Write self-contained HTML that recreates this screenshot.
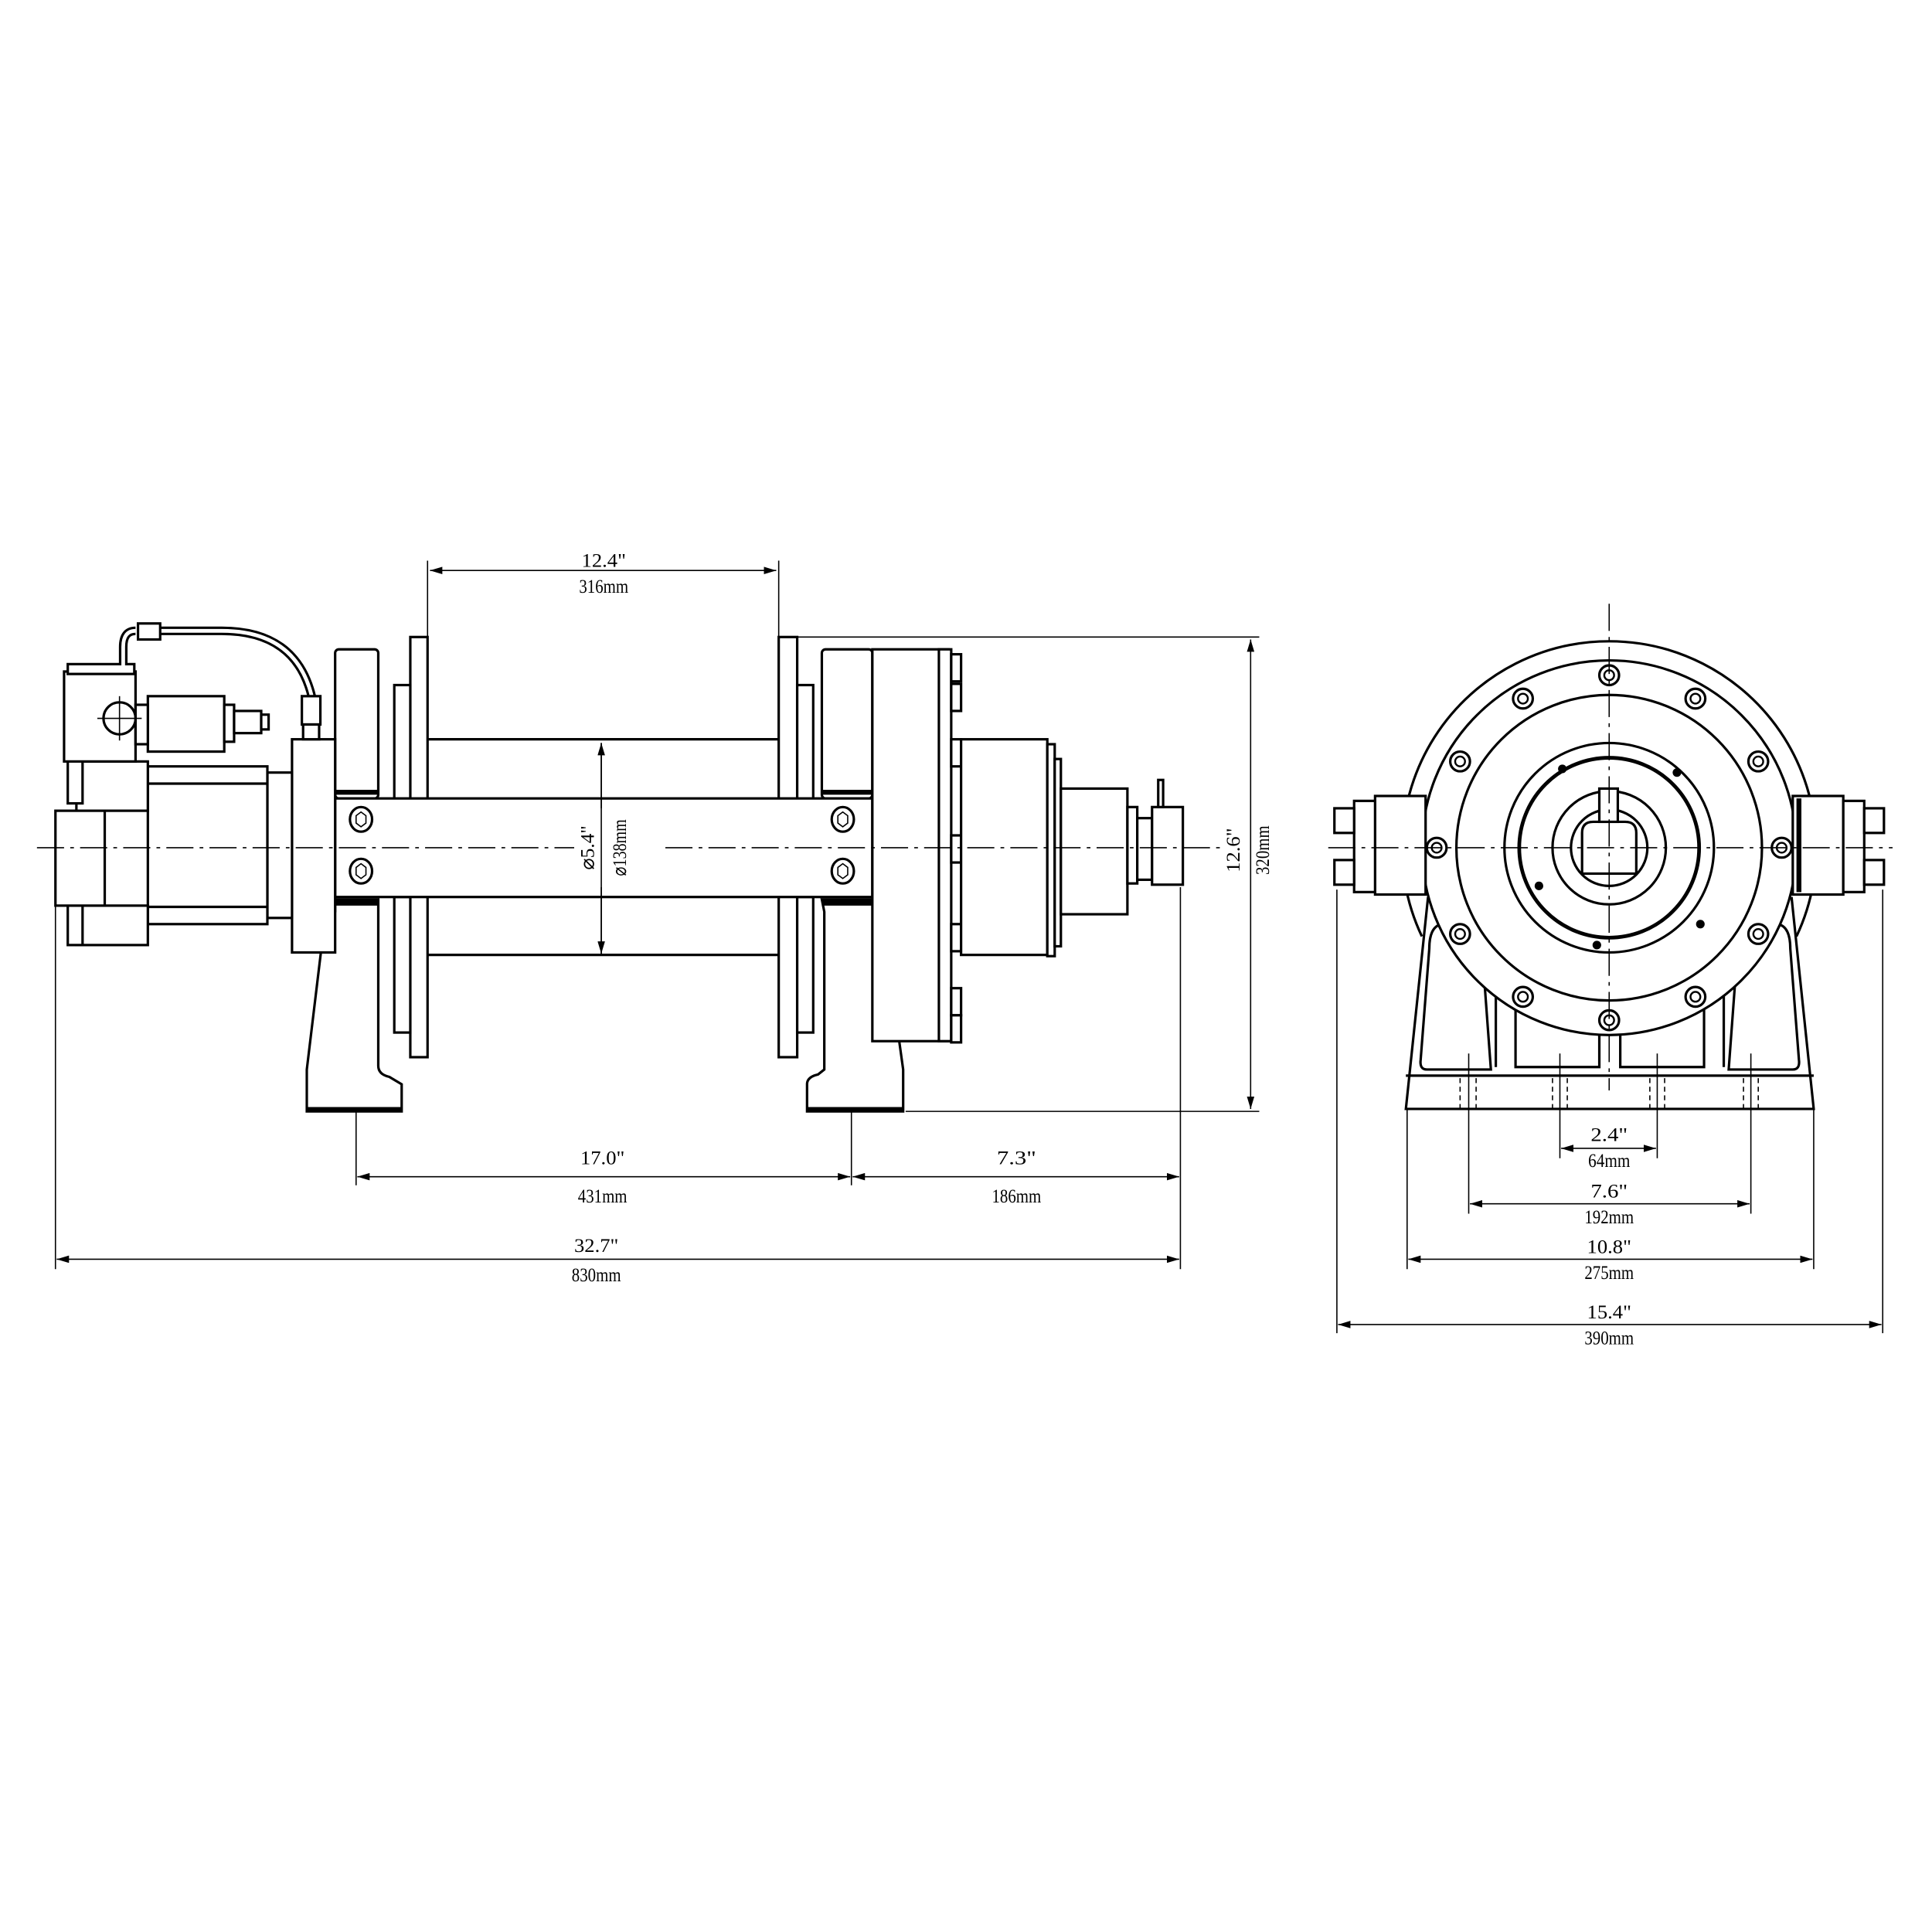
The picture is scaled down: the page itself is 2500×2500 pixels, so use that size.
<!DOCTYPE html>
<html><head><meta charset="utf-8"><style>
html,body{margin:0;padding:0;background:#fff}
svg{display:block}
text{font-family:"Liberation Serif",serif;font-size:16px;fill:#000;text-anchor:middle}
</style></head><body>
<svg width="2500" height="2500" viewBox="0 0 1568 1568" xmlns="http://www.w3.org/2000/svg">
<defs>
<marker id="a" viewBox="0 0 10 6" refX="10" refY="3" markerWidth="10" markerHeight="6" orient="auto-start-reverse" markerUnits="userSpaceOnUse"><path d="M0,0L10,3L0,6z" fill="#000"/></marker>
</defs>
<rect width="1568" height="1568" fill="#fff"/>
<g fill="none" stroke="#000" stroke-width="1">
<line x1="347" y1="455" x2="347" y2="517"/>
<line x1="632" y1="455" x2="632" y2="517"/>
<line x1="647" y1="517" x2="1022" y2="517"/>
<line x1="735" y1="902" x2="1022" y2="902"/>
<line x1="289" y1="865" x2="289" y2="962"/>
<line x1="691" y1="865" x2="691" y2="962"/>
<line x1="958" y1="720" x2="958" y2="1030"/>
<line x1="45" y1="735" x2="45" y2="1030"/>
<line x1="349" y1="463" x2="630" y2="463" marker-start="url(#a)" marker-end="url(#a)"/>
<line x1="1015" y1="519" x2="1015" y2="900" marker-start="url(#a)" marker-end="url(#a)"/>
<line x1="290" y1="955" x2="690" y2="955" marker-start="url(#a)" marker-end="url(#a)"/>
<line x1="692" y1="955" x2="957" y2="955" marker-start="url(#a)" marker-end="url(#a)"/>
<line x1="46" y1="1022" x2="957" y2="1022" marker-start="url(#a)" marker-end="url(#a)"/>
<line x1="1085" y1="722" x2="1085" y2="1082"/>
<line x1="1528" y1="722" x2="1528" y2="1082"/>
<line x1="1142" y1="900" x2="1142" y2="1030"/>
<line x1="1472" y1="900" x2="1472" y2="1030"/>
<line x1="1192" y1="855" x2="1192" y2="985"/>
<line x1="1421" y1="855" x2="1421" y2="985"/>
<line x1="1266" y1="855" x2="1266" y2="940"/>
<line x1="1345" y1="855" x2="1345" y2="940"/>
<line x1="1267" y1="932" x2="1344" y2="932" marker-start="url(#a)" marker-end="url(#a)"/>
<line x1="1193" y1="977" x2="1420" y2="977" marker-start="url(#a)" marker-end="url(#a)"/>
<line x1="1143" y1="1022" x2="1471" y2="1022" marker-start="url(#a)" marker-end="url(#a)"/>
<line x1="1086" y1="1075" x2="1527" y2="1075" marker-start="url(#a)" marker-end="url(#a)"/>
</g>
<g>
<text x="490" y="460" textLength="36" lengthAdjust="spacingAndGlyphs">12.4"</text>
<text x="490" y="481" textLength="40" lengthAdjust="spacingAndGlyphs">316mm</text>
<text x="489" y="945" textLength="36" lengthAdjust="spacingAndGlyphs">17.0"</text>
<text x="489" y="976" textLength="40" lengthAdjust="spacingAndGlyphs">431mm</text>
<text x="825" y="945" textLength="32" lengthAdjust="spacingAndGlyphs">7.3"</text>
<text x="825" y="976" textLength="40" lengthAdjust="spacingAndGlyphs">186mm</text>
<text x="484" y="1016" textLength="36" lengthAdjust="spacingAndGlyphs">32.7"</text>
<text x="484" y="1040" textLength="40" lengthAdjust="spacingAndGlyphs">830mm</text>
<text transform="translate(1006,690) rotate(-90)" textLength="36" lengthAdjust="spacingAndGlyphs">12.6"</text>
<text transform="translate(1030,690) rotate(-90)" textLength="40" lengthAdjust="spacingAndGlyphs">320mm</text>
<text x="1306" y="926" textLength="30" lengthAdjust="spacingAndGlyphs">2.4"</text>
<text x="1306" y="947" textLength="34" lengthAdjust="spacingAndGlyphs">64mm</text>
<text x="1306" y="972" textLength="30" lengthAdjust="spacingAndGlyphs">7.6"</text>
<text x="1306" y="993" textLength="40" lengthAdjust="spacingAndGlyphs">192mm</text>
<text x="1306" y="1017" textLength="36" lengthAdjust="spacingAndGlyphs">10.8"</text>
<text x="1306" y="1038" textLength="40" lengthAdjust="spacingAndGlyphs">275mm</text>
<text x="1306" y="1070" textLength="36" lengthAdjust="spacingAndGlyphs">15.4"</text>
<text x="1306" y="1091" textLength="40" lengthAdjust="spacingAndGlyphs">390mm</text>
</g>
<!-- LEFT VIEW -->
<g fill="#fff" stroke="#000" stroke-width="2">
<line x1="347" y1="600" x2="632" y2="600"/>
<line x1="347" y1="775" x2="632" y2="775"/>
<rect x="333" y="517" width="14" height="341"/>
<rect x="632" y="517" width="15" height="341"/>
<rect x="320" y="556" width="13" height="93"/>
<rect x="320" y="728" width="13" height="110"/>
<rect x="647" y="556" width="13" height="93"/>
<rect x="647" y="728" width="13" height="110"/>
<rect x="272" y="527" width="35" height="121" rx="3"/>
<line x1="272" y1="643" x2="307" y2="643" stroke-width="4"/>
<rect x="667" y="527" width="41" height="121" rx="3"/>
<line x1="667" y1="643" x2="708" y2="643" stroke-width="4"/>
<path d="M272,730 L307,730 L307,865 Q307,872 316,874 L326,880 L326,902 L249,902 L249,868 L262,760 L272,740 Z"/>
<path d="M667,730 L708,730 L718,760 L733,868 L733,902 L655,902 L655,880 Q655,874 664,872 L669,868 L669,740 Z"/>
<line x1="272" y1="733" x2="307" y2="733" stroke-width="4"/>
<line x1="667" y1="733" x2="708" y2="733" stroke-width="4"/>
<line x1="249" y1="900" x2="326" y2="900" stroke-width="3"/>
<line x1="655" y1="900" x2="733" y2="900" stroke-width="3"/>
<rect x="272" y="648" width="436" height="80"/>
<rect x="708" y="527" width="62" height="318"/>
<rect x="762" y="527" width="10" height="318"/>
<rect x="772" y="531" width="8" height="22"/><rect x="772" y="555" width="8" height="22"/>
<rect x="772" y="600" width="8" height="22"/><rect x="772" y="678" width="8" height="22"/>
<rect x="772" y="750" width="8" height="22"/><rect x="772" y="802" width="8" height="22"/><rect x="772" y="824" width="8" height="22"/>
<rect x="780" y="600" width="70" height="175"/>
<rect x="850" y="604" width="6" height="172"/>
<rect x="856" y="616" width="5" height="152"/>
<rect x="861" y="640" width="54" height="102"/>
<rect x="915" y="655" width="8" height="62"/>
<rect x="923" y="664" width="12" height="50"/>
<rect x="935" y="655" width="25" height="63"/>
<rect x="940" y="633" width="4" height="22"/>
<rect x="237" y="600" width="35" height="173"/>
<rect x="217" y="627" width="20" height="118"/>
<rect x="120" y="622" width="97" height="128"/>
<line x1="120" y1="636" x2="217" y2="636"/>
<line x1="120" y1="736" x2="217" y2="736"/>
<rect x="62" y="618" width="58" height="40"/>
<rect x="62" y="735" width="58" height="32"/>
<rect x="55" y="612" width="12" height="40"/>
<rect x="55" y="735" width="12" height="32"/>
<rect x="45" y="658" width="40" height="77"/>
<rect x="52" y="545" width="58" height="73"/>
<rect x="55" y="539" width="54" height="8"/>
<rect x="120" y="565" width="62" height="45"/>
<rect x="110" y="572" width="10" height="32"/>
<rect x="182" y="572" width="8" height="30"/>
<rect x="190" y="577" width="22" height="18"/>
<rect x="212" y="580" width="6" height="12"/>
<circle cx="97" cy="583" r="13"/>
<line x1="79" y1="583" x2="115" y2="583" stroke-width="1"/>
<line x1="97" y1="565" x2="97" y2="601" stroke-width="1"/>
<path d="M100,540 L100,525 Q100,512 110,512 M118,512 L180,512 Q240,512 253,565" fill="none" stroke-width="7"/>
<path d="M100,540 L100,525 Q100,512 110,512 M118,512 L180,512 Q240,512 253,565" fill="none" stroke="#fff" stroke-width="3"/>
<rect x="112" y="506" width="18" height="13"/>
<rect x="245" y="565" width="15" height="23"/>
<rect x="246" y="588" width="13" height="12"/>
</g>
<g fill="#fff" stroke="#000" stroke-width="2">
<ellipse cx="293" cy="665" rx="9" ry="10"/><ellipse cx="293" cy="707" rx="9" ry="10"/>
<ellipse cx="684" cy="665" rx="9" ry="10"/><ellipse cx="684" cy="707" rx="9" ry="10"/>
<path d="M293,659 l4,3 v6 l-4,3 l-4,-3 v-6z M293,701 l4,3 v6 l-4,3 l-4,-3 v-6z M684,659 l4,3 v6 l-4,3 l-4,-3 v-6z M684,701 l4,3 v6 l-4,3 l-4,-3 v-6z" stroke-width="1"/>
</g>
<!-- centerlines & drum dim on top -->
<g fill="none" stroke="#000" stroke-width="1">
<line x1="30" y1="688" x2="466" y2="688" stroke-dasharray="22,5,3,5"/>
<line x1="540" y1="688" x2="992" y2="688" stroke-dasharray="22,5,3,5"/>
<line x1="488" y1="603" x2="488" y2="774" marker-start="url(#a)" marker-end="url(#a)"/>
</g>
<rect x="474" y="656" width="42" height="64" fill="#fff"/>
<line x1="488" y1="603" x2="488" y2="774" stroke="#000" stroke-width="1"/>
<text transform="translate(482,688) rotate(-90)" textLength="36" lengthAdjust="spacingAndGlyphs">⌀5.4"</text>
<text transform="translate(508,688) rotate(-90)" textLength="46" lengthAdjust="spacingAndGlyphs">⌀138mm</text>
<!-- RIGHT VIEW -->
<g fill="none" stroke="#000" stroke-width="2">
<path d="M1159,728 L1141,900 L1472,900 L1454,728"/>
<line x1="1141" y1="873" x2="1472" y2="873"/>
<path d="M1160,770 Q1160,752 1170,750 L1182,760 L1196,790 L1205,800 L1210,868 L1158,868 Q1152,868 1153,860 Z"/>
<path d="M1453,770 Q1453,752 1443,750 L1431,760 L1417,790 L1408,800 L1403,868 L1455,868 Q1461,868 1460,860 Z"/>
<path d="M1230,812 L1230,866 L1298,866 L1298,838 L1255,826 Z"/>
<path d="M1383,812 L1383,866 L1315,866 L1315,838 L1358,826 Z"/>
<line x1="1214" y1="800" x2="1214" y2="866"/>
<line x1="1399" y1="800" x2="1399" y2="866"/>
<path d="M1154,760 A168,168 0 1 1 1458,760"/>
<circle cx="1306" cy="688" r="152" fill="#fff"/>
<circle cx="1306" cy="688" r="124"/>
<circle cx="1306" cy="688" r="85"/>
<circle cx="1306" cy="688" r="73" stroke-width="3"/>
<circle cx="1306" cy="688" r="46"/>
<circle cx="1306" cy="688" r="31"/>
<path d="M1284,709 L1284,676 Q1284,667 1293,667 L1319,667 Q1328,667 1328,676 L1328,709 Z"/>
<rect x="1298" y="640" width="15" height="27" fill="#fff"/>
<rect x="1116" y="646" width="41" height="80" fill="#fff"/>
<rect x="1099" y="650" width="17" height="74" fill="#fff"/>
<rect x="1083" y="656" width="16" height="20" fill="#fff"/>
<rect x="1083" y="698" width="16" height="20" fill="#fff"/>
<rect x="1455" y="646" width="41" height="80" fill="#fff"/>
<rect x="1496" y="650" width="17" height="74" fill="#fff"/>
<rect x="1513" y="656" width="16" height="20" fill="#fff"/>
<rect x="1513" y="698" width="16" height="20" fill="#fff"/>
<line x1="1460" y1="648" x2="1460" y2="724" stroke-width="4"/>
</g>
<g fill="#fff" stroke="#000" stroke-width="2">
<circle cx="1306" cy="548" r="8"/><circle cx="1376" cy="567" r="8"/><circle cx="1427" cy="618" r="8"/>
<circle cx="1446" cy="688" r="8"/><circle cx="1427" cy="758" r="8"/><circle cx="1376" cy="809" r="8"/>
<circle cx="1306" cy="828" r="8"/><circle cx="1236" cy="809" r="8"/><circle cx="1185" cy="758" r="8"/>
<circle cx="1166" cy="688" r="8"/><circle cx="1185" cy="618" r="8"/><circle cx="1236" cy="567" r="8"/>
</g>
<g fill="none" stroke="#000" stroke-width="1.5">
<circle cx="1306" cy="548" r="4"/><circle cx="1376" cy="567" r="4"/><circle cx="1427" cy="618" r="4"/>
<circle cx="1446" cy="688" r="4"/><circle cx="1427" cy="758" r="4"/><circle cx="1376" cy="809" r="4"/>
<circle cx="1306" cy="828" r="4"/><circle cx="1236" cy="809" r="4"/><circle cx="1185" cy="758" r="4"/>
<circle cx="1166" cy="688" r="4"/><circle cx="1185" cy="618" r="4"/><circle cx="1236" cy="567" r="4"/>
</g>
<g fill="#000">
<circle cx="1268" cy="624" r="3.5"/><circle cx="1361" cy="627" r="3.5"/><circle cx="1249" cy="719" r="3.5"/>
<circle cx="1380" cy="750" r="3.5"/><circle cx="1296" cy="767" r="3.5"/>
</g>
<g stroke="#000" stroke-width="1">
<line x1="1078" y1="688" x2="1536" y2="688" stroke-dasharray="22,5,3,5"/>
<line x1="1306" y1="490" x2="1306" y2="885" stroke-dasharray="22,5,3,5"/>
<line x1="1185" y1="875" x2="1185" y2="900" stroke-dasharray="4,3"/><line x1="1198" y1="875" x2="1198" y2="900" stroke-dasharray="4,3"/>
<line x1="1260" y1="875" x2="1260" y2="900" stroke-dasharray="4,3"/><line x1="1272" y1="875" x2="1272" y2="900" stroke-dasharray="4,3"/>
<line x1="1339" y1="875" x2="1339" y2="900" stroke-dasharray="4,3"/><line x1="1351" y1="875" x2="1351" y2="900" stroke-dasharray="4,3"/>
<line x1="1415" y1="875" x2="1415" y2="900" stroke-dasharray="4,3"/><line x1="1427" y1="875" x2="1427" y2="900" stroke-dasharray="4,3"/>
</g>
</svg>
</body></html>
